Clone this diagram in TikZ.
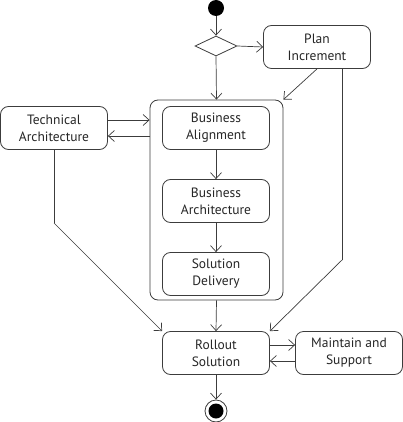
\documentclass[tikz,border=0pt]{standalone}
\usepackage{fontspec}
\setmainfont{PT Sans}
\usetikzlibrary{arrows.meta, shapes.geometric}
\definecolor{cLn}{RGB}{60,60,60}
\tikzset{
  act/.style={
    rectangle, rounded corners=8pt,
    draw=cLn, fill=white, text=black!85,
    minimum width=107pt, minimum height=43pt,
    align=center, font=\fontsize{13.5}{17}\selectfont,
    inner sep=2pt, line width=0.8pt
  },
  grp/.style={
    rectangle, rounded corners=8pt,
    draw=cLn, line width=0.8pt,
    minimum width=133pt, minimum height=200pt
  },
  dec/.style={
    diamond, draw=cLn, line width=0.8pt, inner sep=0pt,
    aspect=2.1, minimum width=42pt, minimum height=20pt
  },
  startdot/.style={circle, fill=black, inner sep=0pt, minimum size=16pt},
  enddot/.style={circle, draw=cLn, fill=white, line width=0.8pt,
                 inner sep=0pt, minimum size=22pt,
                 path picture={\fill[black] (path picture bounding box.center) circle (7.5pt);}},
  arr/.style={-{Straight Barb[length=6pt, width=11pt]}, line width=0.7pt, draw=cLn},
  ln/.style={line width=0.7pt, draw=cLn},
}
\begin{document}
\begin{tikzpicture}[x=1pt, y=-1pt]
\useasboundingbox (0,0) rectangle (403,422);

%% ── Top: start, decision, plan ───────────────────────────────────────────────
\node[startdot] (start) at (216,  8) {};
\node[dec]      (dec)   at (216, 46) {};
\node[act]      (plan)  at (317, 47) {Plan\\Increment};

%% ── Middle: grouped activities and technical architecture ───────────────────
\node[grp] (grp)  at (216.5, 200) {};
\node[act] (balign) at (216, 128) {Business\\Alignment};
\node[act] (barch)  at (216, 201) {Business\\Architecture};
\node[act] (sdel)   at (216, 274) {Solution\\Delivery};
\node[act] (tarch)  at ( 54, 128) {Technical\\Architecture};

%% ── Bottom: rollout, maintain, end ───────────────────────────────────────────
\node[act]    (roll)  at (216, 353) {Rollout\\Solution};
\node[act]    (maint) at (349, 353) {Maintain and\\Support};
\node[enddot] (stop)  at (216, 411) {};

%% ── Bends ────────────────────────────────────────────────────────────────────
\coordinate (tbend) at ( 54, 223);
\coordinate (pbend) at (342, 260);

%% ── Flow arrows ──────────────────────────────────────────────────────────────
\draw[arr] (start) -- (dec.north);
\draw[arr] (dec.east)  -- (plan.west);
\draw[arr] (dec.south) -- (grp.north);
\draw[arr] (plan.south) -- (grp.north east);
\draw[arr] (balign) -- (barch);
\draw[arr] (barch)  -- (sdel);

\draw[arr] ([yshift=8pt]tarch.east)  -- ([yshift=8pt]tarch.east -| grp.west);
\draw[arr] ([yshift=-8pt]tarch.east -| grp.west) -- ([yshift=-8pt]tarch.east);

\draw[ln]  (tarch.south) -- (tbend);
\draw[arr] (tbend) -- (roll.north west);
\draw[ln]  ([xshift=25pt]plan.south) -- (pbend);
\draw[arr] (pbend) -- (roll.north east);

\draw[arr] (grp.south) -- (roll.north);
\draw[arr] ([yshift=8pt]roll.east)  -- ([yshift=8pt]maint.west);
\draw[arr] ([yshift=-8pt]maint.west) -- ([yshift=-8pt]roll.east);
\draw[arr] (roll.south) -- (stop.north);

\end{tikzpicture}
\end{document}
